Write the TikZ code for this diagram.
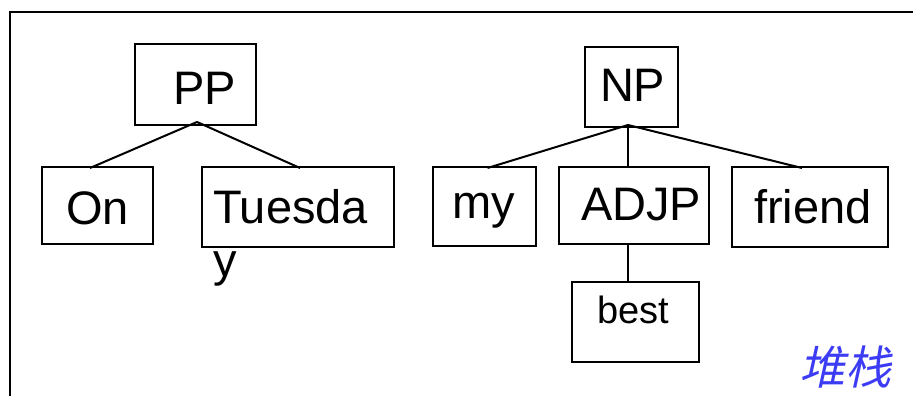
\documentclass[tikz,border=0pt]{standalone}
\usepackage{fontspec}
\setmainfont{Liberation Sans}
\newfontfamily\cjk[FakeSlant=0.22]{Noto Sans CJK SC}
\definecolor{cjkblue}{RGB}{60,60,245}
\begin{document}
\begin{tikzpicture}[x=1pt,y=-1pt,line width=2pt,
  box/.style={draw,rectangle,inner sep=0pt},
  word/.style={inner sep=0pt,anchor=base west,font=\fontsize{47}{53}\selectfont},
  edge/.style={line width=2pt}]
\useasboundingbox (0,0) rectangle (913,396);
\draw (10,396) -- (10,12) -- (913,12);
% boxes
\node[box,minimum width=121pt,minimum height=81pt] (PP) at (195.5,84.5) {};
\node[box,minimum width=111pt,minimum height=77pt] (On) at (97,205.5) {};
\node[box,minimum width=192pt,minimum height=80pt] (Tue) at (298,207) {};
\node[box,minimum width=93pt,minimum height=80pt] (NP) at (631.5,87) {};
\node[box,minimum width=103pt,minimum height=79pt] (my) at (484.5,206.5) {};
\node[box,minimum width=150pt,minimum height=77pt] (ADJP) at (634,205.5) {};
\node[box,minimum width=156pt,minimum height=80pt] (friend) at (810,207) {};
\node[box,minimum width=127pt,minimum height=80pt] (best) at (635.5,322) {};
% texts
\node[word] (tPP) at (172,104) {PP};
\node[word] (tNP) at (599,101) {NP};
\node[word] (tOn) at (65,224) {On};
\node[word,align=left] (tTue) at (212,276) {Tuesda\\y};
\node[word] (tmy) at (451,218) {my};
\node[word] (tADJP) at (580,220) {ADJP};
\node[word] (tfriend) at (753,223) {friend};
\node[word,font=\fontsize{38}{44}\selectfont] (tbest) at (596,323) {best};
\node[inner sep=0pt,anchor=base west,text=cjkblue,font=\cjk\fontsize{46}{50}\selectfont] (stack) at (798,384) {堆栈};
% connectors
\coordinate (apexPP) at (197,122);
\coordinate (apexNP) at (628,125);
\draw[edge] (apexPP) -- ([xshift=-7pt,yshift=-2pt]On.north);
\draw[edge] (apexPP) -- ([xshift=2pt,yshift=-2pt]Tue.north);
\draw[edge] (apexNP) -- ([xshift=3pt,yshift=-2pt]my.north);
\draw[edge] (apexNP) -- (apexNP |- ADJP.north);
\draw[edge] (apexNP) -- ([xshift=-8pt,yshift=-2pt]friend.north);
\draw[edge] (ADJP.south -| apexNP) -- (best.north -| apexNP);
\end{tikzpicture}
\end{document}
